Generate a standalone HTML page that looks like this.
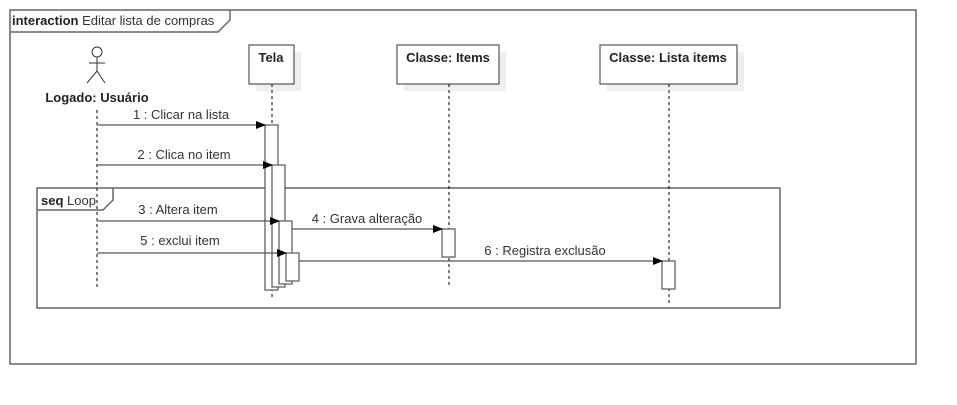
<!DOCTYPE html>
<html><head><meta charset="utf-8"><style>
html,body{margin:0;padding:0;background:#fff;width:957px;height:405px;overflow:hidden}
text{font-family:"Liberation Sans",sans-serif;font-size:13px;fill:#333}
.b{font-weight:bold;fill:#222}
</style></head><body>
<svg width="957" height="405" xmlns="http://www.w3.org/2000/svg">
<defs><marker id="a" markerWidth="10" markerHeight="10" refX="9" refY="4" orient="auto" markerUnits="userSpaceOnUse"><path d="M0,0 L10,4 L0,8z" fill="#000"/></marker></defs>
<g fill="none" stroke="#666" stroke-width="1.5">
<rect x="10" y="10" width="906" height="354"/>
<path d="M10,32 H218 L230,20 V10"/>
<rect x="37" y="188" width="743" height="120"/>
<path d="M37,210 H103 L113,200 V188"/>
</g>
<text x="12" y="25"><tspan class="b">interaction</tspan> Editar lista de compras</text>
<text x="41" y="205"><tspan class="b">seq</tspan> Loop</text>
<g stroke="#333" stroke-width="1" fill="none">
<circle cx="97" cy="52" r="5"/>
<path d="M97,57 V71 M89,63 H105 M97,71 L87,83 M97,71 L105,83"/>
</g>
<text x="97" y="102" text-anchor="middle" class="b">Logado: Usuário</text>
<g fill="#eee"><rect x="256" y="52" width="45" height="39"/><rect x="404" y="52" width="102" height="39"/><rect x="607" y="52" width="137" height="39"/></g>
<g fill="#fff" stroke="#555" stroke-width="1.2">
<rect x="249" y="45" width="45" height="39"/><rect x="397" y="45" width="102" height="39"/><rect x="600" y="45" width="137" height="39"/>
</g>
<text x="271" y="62" text-anchor="middle" class="b">Tela</text>
<text x="448" y="62" text-anchor="middle" class="b">Classe: Items</text>
<text x="668" y="62" text-anchor="middle" class="b">Classe: Lista items</text>
<g stroke="#000" stroke-width="1" stroke-dasharray="3,3">
<path d="M97,110 V287 M272,84 V300 M449,84 V286 M669,84 V304"/>
</g>
<g fill="#fff" stroke="#555" stroke-width="1.2">
<rect x="265" y="125" width="13" height="165"/>
<rect x="272" y="165" width="13" height="122"/>
<rect x="279" y="221" width="13" height="63"/>
<rect x="286" y="253" width="13" height="28"/>
<rect x="442" y="229" width="13" height="28"/>
<rect x="662" y="261" width="13" height="28"/>
</g>
<g stroke="#555" stroke-width="1.2" marker-end="url(#a)">
<path d="M97,125 H265"/><path d="M97,165 H272"/><path d="M97,221 H279"/><path d="M97,253 H286"/>
<path d="M292,229 H442"/><path d="M299,261 H662"/>
</g>
<text x="181" y="119" text-anchor="middle">1 : Clicar na lista</text>
<text x="184" y="159" text-anchor="middle">2 : Clica no item</text>
<text x="178" y="214" text-anchor="middle">3 : Altera item</text>
<text x="180" y="245" text-anchor="middle">5 : exclui item</text>
<text x="367" y="223" text-anchor="middle">4 : Grava alteração</text>
<text x="545" y="255" text-anchor="middle">6 : Registra exclusão</text>
</svg>
</body></html>
